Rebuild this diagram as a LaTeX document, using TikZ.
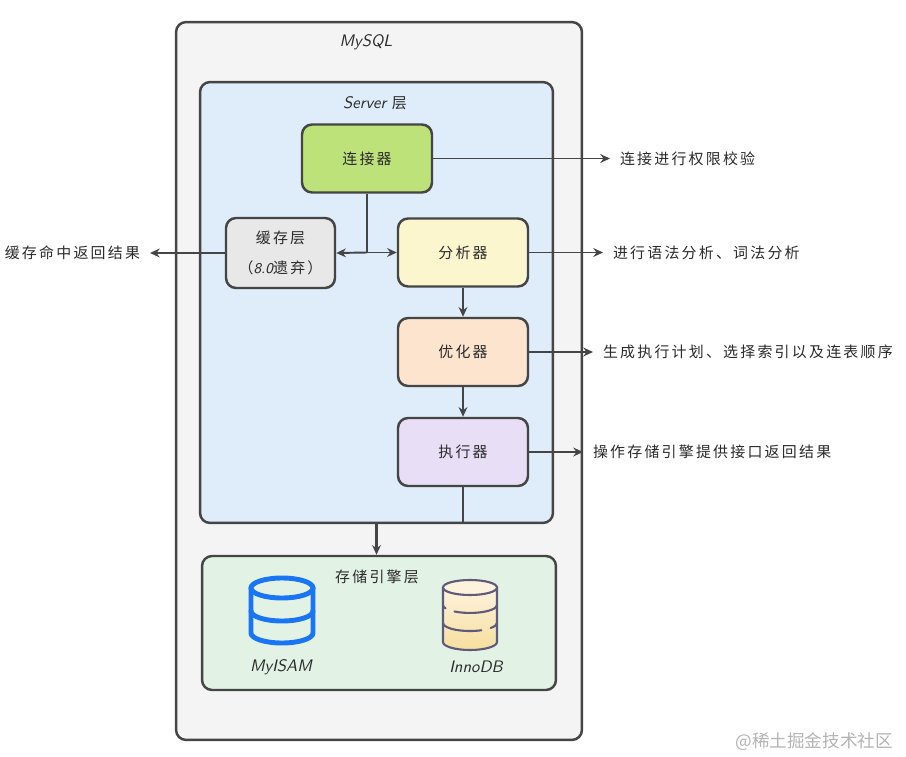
\documentclass[tikz,border=0pt]{standalone}
\usepackage{fontspec}
\newfontfamily\cjk[LetterSpace=15]{Noto Sans CJK SC}
\newfontfamily\wmfont{Noto Sans CJK SC}
\usetikzlibrary{arrows.meta}
\definecolor{linegray}{HTML}{454545}
\definecolor{textgray}{HTML}{2B2B2B}
\definecolor{mysqlbg}{HTML}{F4F4F4}
\definecolor{serverbg}{HTML}{DEEDF9}
\definecolor{storebg}{HTML}{E2F2E4}
\definecolor{conngreen}{HTML}{BEE27A}
\definecolor{cachegray}{HTML}{E8E8E8}
\definecolor{anayellow}{HTML}{FCF6CE}
\definecolor{optpeach}{HTML}{FDE4CE}
\definecolor{exepurple}{HTML}{E8DEF6}
\definecolor{myisamblue}{HTML}{1A75F5}
\definecolor{innoline}{HTML}{5F5A7A}
\definecolor{innotop}{HTML}{FDF3DC}
\definecolor{innobot}{HTML}{F7DE9E}
\definecolor{wmgray}{HTML}{B4B4B4}

\begin{document}
\begin{tikzpicture}[x=0.02cm,y=-0.02cm,
    line/.style={draw=linegray, line width=1.1pt},
    arr/.style={line, -{Stealth[length=5.5pt,width=5pt]}},
    frame/.style={draw=linegray, line width=1.4pt, rounded corners=0.2cm, inner sep=0pt},
    comp/.style={frame, minimum width=2.6cm, minimum height=1.36cm, text=textgray,
        font=\cjk\fontsize{8.5}{17}\selectfont},
    note/.style={text=textgray, inner sep=5.5pt, font=\cjk\fontsize{8.5}{10}\selectfont},
    latin/.style={text=textgray, font=\sffamily\itshape\fontsize{9.5}{11}\selectfont},
    myisam/.style={draw=myisamblue, line width=2.8pt, line cap=round},
    inno/.style={draw=innoline, line width=1.2pt, line cap=round}]
    %%%%% START %%%%%
    \fill[white] (0,0) rectangle (906,757);
    \useasboundingbox (0,0) rectangle (906,757);

    \node[frame, fill=mysqlbg, minimum width=8.12cm, minimum height=14.36cm] (mysql) at (379,381) {};
    \node[latin] (mysqllbl) at (366,42) {MySQL};

    \node[frame, fill=serverbg, minimum width=7.06cm, minimum height=8.82cm] (server) at (376.5,302.5) {};
    \node[latin] (serverlbl) at (375,103) {Server {\cjk\fontsize{8.5}{10}\selectfont 层}};

    \node[frame, fill=storebg, minimum width=7.08cm, minimum height=2.68cm] (store) at (379,623) {};
    \node[note] (storelbl) at (377,577) {存储引擎层};

    \node[comp, fill=conngreen] (conn) at (367,158.5) {连接器};
    \node[comp, fill=cachegray, minimum width=2.18cm, minimum height=1.4cm, align=center] (cache) at (280.5,253)
        {缓存层\\（{\sffamily\itshape 8.0}遗弃）};
    \node[comp, fill=anayellow] (ana) at (463,252.5) {分析器};
    \node[comp, fill=optpeach] (opt) at (463,352) {优化器};
    \node[comp, fill=exepurple] (exe) at (463,452) {执行器};

    \coordinate (fork) at (conn.south |- ana.west);
    \draw[line] (conn.south) -- (fork);
    \draw[arr] (fork) -- (cache.east);
    \draw[arr] (fork) -- (ana.west);
    \draw[arr] (ana) -- (opt);
    \draw[arr] (opt) -- (exe);
    \draw[line] (exe.south) -- (exe.south |- server.south);
    \draw[arr, line width=1.8pt] (server.south) -- (server.south |- store.north);

    \node[note, anchor=west] (connnote) at (610,158.5) {连接进行权限校验};
    \node[note, anchor=west] (ananote) at (603,252.5) {进行语法分析、词法分析};
    \node[note, anchor=west] (optnote) at (593,352) {生成执行计划、选择索引以及连表顺序};
    \node[note, anchor=west] (exenote) at (583,452) {操作存储引擎提供接口返回结果};
    \node[note, anchor=east] (cachenote) at (150,253) {缓存命中返回结果};
    \draw[arr] (conn.east) -- (connnote.west);
    \draw[arr] (ana.east) -- (ananote.west);
    \draw[arr] (opt.east) -- (optnote.west);
    \draw[arr] (exe.east) -- (exenote.west);
    \draw[arr] (cache.west) -- (cachenote.east);

    % MyISAM
    \draw[myisam] (282,588) ellipse (0.62cm and 0.2cm);
    \draw[myisam] (251,588) -- (251,633) arc[start angle=180, end angle=360, x radius=0.62cm, y radius=0.2cm] -- (313,588);
    \draw[myisam] (251,611) arc[start angle=180, end angle=360, x radius=0.62cm, y radius=0.2cm];
    \node[latin] (myisamlbl) at (281,667) {MyISAM};

    % InnoDB
    \fill[top color=innotop, bottom color=innobot] (443,587.5) -- (443,642)
        arc[start angle=180, end angle=360, x radius=0.54cm, y radius=0.16cm] -- (497,587.5) -- cycle;
    \draw[inno] (443,587.5) -- (443,642) arc[start angle=180, end angle=360, x radius=0.54cm, y radius=0.16cm] -- (497,587.5);
    \draw[inno, fill=innotop] (470,587.5) ellipse (0.54cm and 0.15cm);
    \draw[inno] (443,605) arc[start angle=180, end angle=205, x radius=0.54cm, y radius=0.16cm];
    \draw[inno] (454.5,611.5) arc[start angle=235, end angle=360, x radius=0.54cm, y radius=0.16cm];
    \draw[inno] (443,623) arc[start angle=180, end angle=295, x radius=0.54cm, y radius=0.16cm];
    \draw[inno] (490.7,628) arc[start angle=320, end angle=360, x radius=0.54cm, y radius=0.16cm];
    \node[latin] (innolbl) at (476,667) {InnoDB};

    \node[text=wmgray, anchor=east, font=\wmfont\fontsize{10}{12}\selectfont] (wm) at (899,742) {@稀土掘金技术社区};
    %%%%% END %%%%%
\end{tikzpicture}
\end{document}
